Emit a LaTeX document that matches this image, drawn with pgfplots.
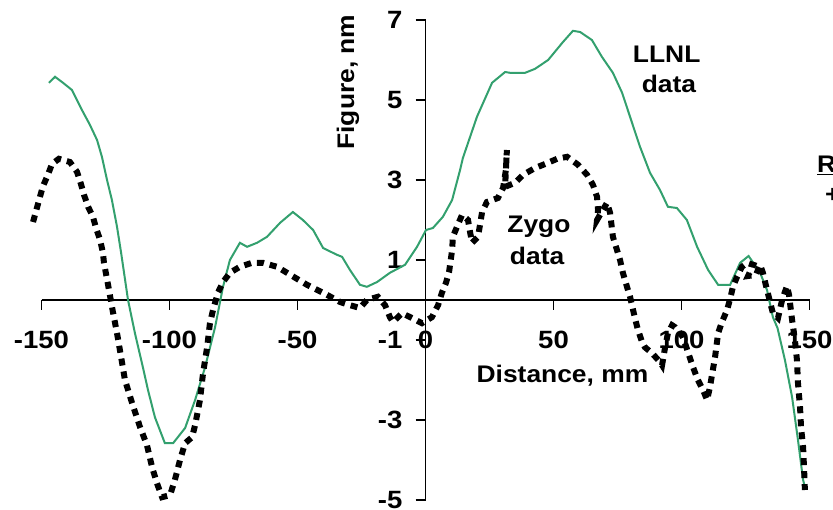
\documentclass[border=0pt]{standalone}
\usepackage{fontspec}
\setmainfont{Liberation Sans}[FakeStretch=1.1]
\usepackage{pgfplots}
\pgfplotsset{compat=1.18}
\definecolor{llnl}{RGB}{51,160,110}
\begin{document}
\begin{tikzpicture}
\useasboundingbox (0,0) rectangle (833pt,509pt);
\begin{axis}[
  scale only axis, width=768pt, height=480pt,
  anchor=origin, at={(425.5pt,209pt)},
  xmin=-150, xmax=150, ymin=-5, ymax=7,
  clip=false,
  axis lines=middle,
  hide obscured x ticks=false,
  hide obscured y ticks=false,
  axis line style={-, line width=1.4pt},
  every inner x axis line/.append style={-},
  every inner y axis line/.append style={-},
  xtick={-150,-100,-50,0,50,100,150},
  xticklabels={-150,-100,-50,0,50,100,150},
  ytick={-5,-3,-1,1,3,5,7},
  yticklabels={-5,-3,-1,1,3,5,7},
  tick align=outside,
  major tick length=10pt,
  tick style={line width=1.2pt, black},
  every tick label/.append style={font=\fontsize{25}{28}\selectfont\bfseries, inner sep=0pt},
  xticklabel style={anchor=center, yshift=-30pt},
  yticklabel style={anchor=east, xshift=-13pt},
]
\addplot[llnl, line width=2pt] coordinates {
(-147.1,5.43) (-144.7,5.58) (-141.6,5.43) (-138.1,5.25) (-134.2,4.75) (-131.1,4.38) (-128.3,4.0) (-126.4,3.58) (-124.4,3.0) (-122.5,2.5) (-120.5,1.83) (-118.9,1.18) (-116.2,0) (-113.5,-0.83) (-110.4,-1.68) (-108.4,-2.25) (-105.7,-2.93) (-101.8,-3.58) (-98.6,-3.58) (-93.9,-3.2) (-90.0,-2.5) (-86.1,-1.68) (-82.2,-0.68) (-79.1,0.33) (-76.4,1.0) (-72.5,1.43) (-69.7,1.33) (-65.8,1.43) (-61.9,1.58) (-56.8,1.93) (-51.8,2.2) (-47.9,2.0) (-43.9,1.75) (-40.0,1.3) (-34.6,1.13) (-32.6,1.08) (-29.5,0.75) (-25.6,0.38) (-22.9,0.33) (-18.9,0.45) (-13.9,0.68) (-8.0,0.88) (-3.3,1.33) (0.2,1.75) (2.9,1.8) (6.8,2.08) (10.4,2.5) (13.5,3.25) (14.6,3.55) (20.1,4.58) (26.0,5.43) (31.1,5.7) (33.0,5.68) (38.9,5.68) (42.8,5.78) (47.9,6.0) (53.7,6.45) (57.6,6.73) (60.4,6.7) (65.0,6.5) (68.9,6.08) (73.2,5.68) (76.8,5.18) (79.9,4.58) (83.8,3.83) (87.7,3.18) (91.6,2.75) (94.7,2.33) (98.2,2.3) (102.1,2.0) (106.1,1.33) (110.4,0.75) (114.3,0.38) (119.0,0.38) (122.9,0.93) (126.2,1.1) (130.7,0.68) (133.4,0.25) (135.7,-0.43) (137.5,-0.7) (140.4,-1.5) (143.2,-2.43) (145.5,-3.5) (147.5,-4.5) (148.2,-4.68)
};
\addplot[black, line width=6pt, dash pattern=on 7pt off 6pt] coordinates {
(-153.3,1.95) (-151.8,2.3) (-150.6,2.58) (-149.4,2.85) (-147.5,3.13) (-145.9,3.4) (-143.2,3.53) (-138.9,3.45) (-136.1,3.2) (-134.6,2.9) (-133.4,2.63) (-131.8,2.33) (-129.9,2.08) (-128.7,1.8) (-127.1,1.5) (-126.0,1.18) (-125.6,0.93) (-124.0,0.38) (-122.1,-0.3) (-120.5,-0.83) (-118.9,-1.43) (-117.4,-2.0) (-114.6,-2.58) (-111.5,-3.18) (-108.8,-3.63) (-106.8,-4.18) (-104.9,-4.58) (-102.9,-4.93) (-99.8,-4.88) (-97.9,-4.5) (-95.9,-4.0) (-93.9,-3.58) (-91.2,-3.43) (-90.0,-3.13) (-88.1,-2.5) (-86.9,-1.83) (-85.3,-1.18) (-84.2,-0.58) (-83.0,-0.25) (-81.1,0.18) (-79.1,0.45) (-76.4,0.68) (-72.5,0.83) (-67.8,0.93) (-63.5,0.93) (-58.0,0.83) (-54.1,0.68) (-46.3,0.38) (-38.5,0.13) (-33.4,-0.05) (-29.5,-0.13) (-25.6,-0.2) (-22.9,0) (-18.6,0.08) (-15.8,-0.13) (-13.9,-0.43) (-12.7,-0.55) (-9.2,-0.33) (-5.3,-0.45) (-1.4,-0.58) (2.5,-0.43) (4.9,-0.13) (6.4,0.18) (8.0,0.43) (9.2,0.7) (10.4,1.25) (10.7,1.58) (12.3,1.83) (14.3,2.13) (16.6,2.0) (17.4,1.7) (18.2,1.43) (20.5,1.58) (21.3,1.88) (22.1,2.2) (24.0,2.45) (28.3,2.55) (30.3,2.8) (31.4,3.25) (31.8,3.75) (31.4,3.25) (31.1,2.83) (35.0,2.93) (38.1,3.13) (42.8,3.3) (46.7,3.4) (51.4,3.53) (55.3,3.58) (59.6,3.38) (63.1,3.13) (65.4,2.88) (67.0,2.58) (67.4,2.25) (67.0,2.0) (70.9,2.43) (72.1,2.18) (73.2,1.58) (74.8,1.25) (76.0,1.0) (77.1,0.68) (78.7,0.33) (79.9,0.08) (81.8,-0.45) (83.0,-0.75) (84.6,-1.05) (85.7,-1.18) (88.5,-1.33) (91.6,-1.55) (92.4,-1.63) (93.6,-1.18) (94.7,-0.83) (96.3,-0.63) (97.5,-0.68) (100.6,-0.93) (102.5,-1.3) (104.5,-1.68) (106.4,-2.0) (108.4,-2.25) (110.0,-2.5) (111.1,-2.18) (113.1,-1.43) (114.3,-0.83) (115.8,-0.55) (117.8,-0.25) (119.0,0.03) (120.1,0.33) (121.7,0.58) (123.6,0.83) (125.6,0.93) (128.0,0.88) (126.0,0.6) (129.1,0.63) (130.7,0.88) (131.8,0.68) (133.4,0.25) (134.6,-0.05) (135.7,-0.33) (137.7,-0.45) (139.3,0) (141.2,0.35) (142.0,0.13) (143.2,-0.5) (144.3,-1.0) (145.1,-1.5) (145.5,-2.08) (146.3,-2.68) (146.7,-3.18) (147.5,-3.68) (147.9,-4.25) (148.2,-4.75)
};
\node[rotate=90, font=\fontsize{24}{28}\selectfont\bfseries, inner sep=0pt] at (axis cs:-30.3,5.45) {Figure, nm};
\node[font=\fontsize{24}{28}\selectfont\bfseries, inner sep=0pt] at (axis cs:53.5,-1.9) {Distance, mm};
\node[font=\fontsize{24}{28}\selectfont\bfseries, inner sep=0pt, anchor=base] at (axis cs:94.2,5.93) {LLNL};
\node[font=\fontsize{24}{28}\selectfont\bfseries, inner sep=0pt, anchor=base] at (axis cs:95.1,5.18) {data};
\node[font=\fontsize{24}{28}\selectfont\bfseries, inner sep=0pt, anchor=base] at (axis cs:44.3,1.68) {Zygo};
\node[font=\fontsize{24}{28}\selectfont\bfseries, inner sep=0pt, anchor=base] at (axis cs:43.6,0.88) {data};
\node[font=\fontsize{24}{28}\selectfont\bfseries, inner sep=0pt, anchor=base west] at (axis cs:152.9,3.18) {\underline{R}};
\node[font=\fontsize{24}{28}\selectfont\bfseries, inner sep=0pt, anchor=base west] at (axis cs:156.0,2.43) {+};
\end{axis}
\end{tikzpicture}
\end{document}
